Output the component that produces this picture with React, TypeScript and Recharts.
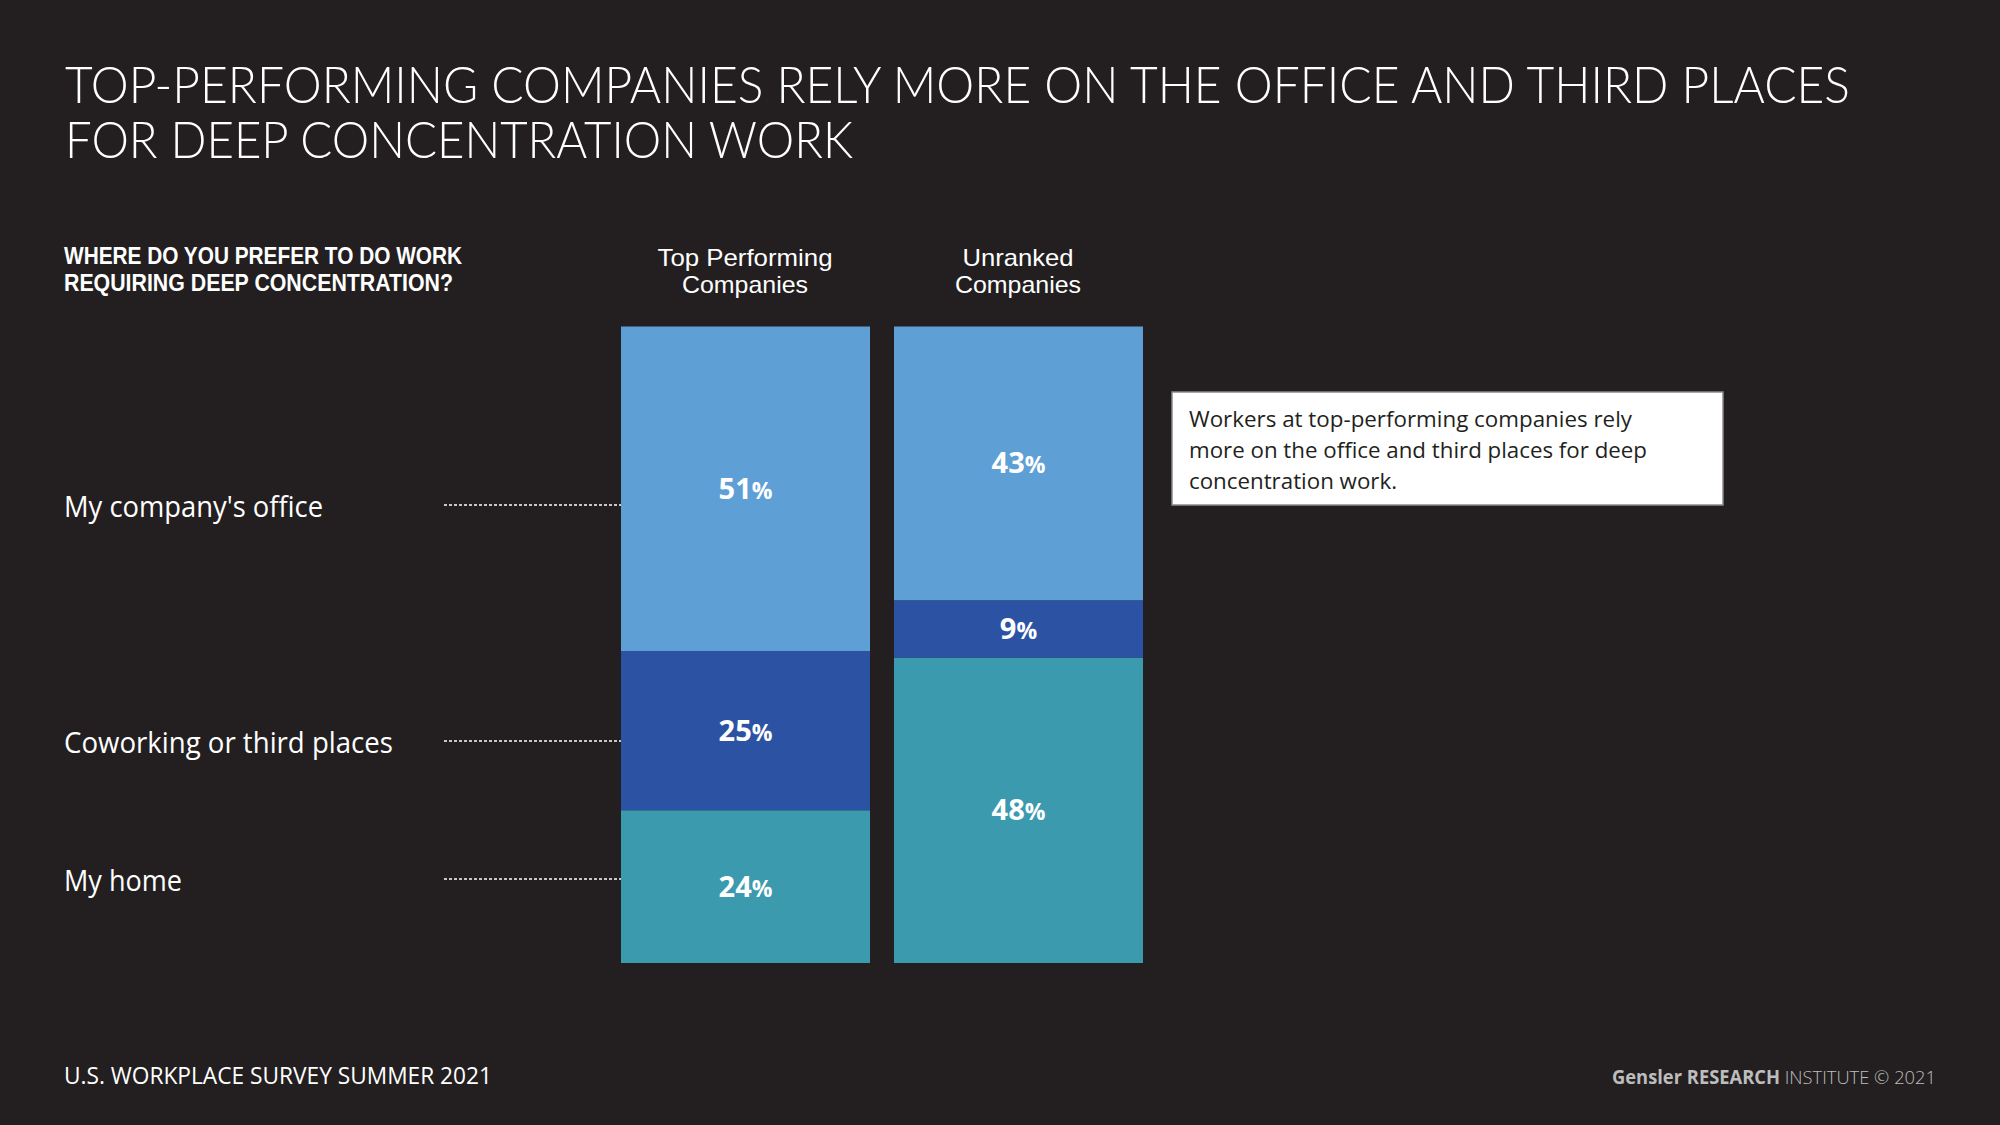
import React from "react";
import { BarChart, Bar, XAxis, YAxis, LabelList } from "recharts";

const categories = ["Top Performing Companies", "Unranked Companies"];
const headerLines = [
  ["Top Performing", "Companies"],
  ["Unranked", "Companies"],
];
const homeValues = [24, 48];
const coworkValues = [25, 9];
const officeValues = [51, 43];
const seriesNames = ["My home", "Coworking or third places", "My company's office"];

const data = categories.map((c, i) => ({
  name: c,
  home: homeValues[i],
  cowork: coworkValues[i],
  office: officeValues[i],
}));

const BG = "#231f20";
const C_OFFICE = "#5e9fd6";
const C_COWORK = "#2c53a3";
const C_HOME = "#3b9aae";

const PctLabel = (props: any) => {
  const { x, y, width, height, value } = props;
  const cx = Number(x) + Number(width) / 2;
  const cy = Number(y) + Number(height) / 2;
  return (
    <text
      x={cx}
      y={cy + 10}
      textAnchor="middle"
      fill="#ffffff"
      fontFamily="'Open Sans', sans-serif"
      fontWeight={700}
      fontSize={29}
    >
      {value}
      <tspan fontSize={23}>%</tspan>
    </text>
  );
};

export default function App() {
  const sans = "'Open Sans', sans-serif";
  const tight = "'Liberation Sans', Arial, sans-serif";
  return (
    <div
      style={{
        position: "absolute",
        left: 0,
        top: 0,
        width: 2000,
        height: 1125,
        background: BG,
        overflow: "hidden",
      }}
    >
      <div style={{ position: "absolute", left: 0, top: 0 }}>
        <BarChart
          width={2000}
          height={1125}
          data={data}
          margin={{ top: 326.5, bottom: 162, left: 609, right: 845 }}
        >
          <XAxis dataKey="name" hide />
          <YAxis hide domain={[0, 100]} />
          <Bar dataKey="home" stackId="a" fill={C_HOME} barSize={249} isAnimationActive={false}>
            <LabelList dataKey="home" content={PctLabel} />
          </Bar>
          <Bar dataKey="cowork" stackId="a" fill={C_COWORK} barSize={249} isAnimationActive={false}>
            <LabelList dataKey="cowork" content={PctLabel} />
          </Bar>
          <Bar dataKey="office" stackId="a" fill={C_OFFICE} barSize={249} isAnimationActive={false}>
            <LabelList dataKey="office" content={PctLabel} />
          </Bar>
        </BarChart>
      </div>
      <svg
        width={2000}
        height={1125}
        style={{ position: "absolute", left: 0, top: 0, pointerEvents: "none" }}
      >
        {/* Title */}
        <g transform="translate(65,102.5) scale(1,1.1)">
          <text x={0} y={0} fill="#ffffff" fontFamily="Lato, sans-serif" fontWeight={300} fontSize={46} textLength={1785} lengthAdjust="spacingAndGlyphs">
            TOP-PERFORMING COMPANIES RELY MORE ON THE OFFICE AND THIRD PLACES
          </text>
        </g>
        <g transform="translate(65,158) scale(1,1.1)">
          <text x={0} y={0} fill="#ffffff" fontFamily="Lato, sans-serif" fontWeight={300} fontSize={46} textLength={788} lengthAdjust="spacingAndGlyphs">
            FOR DEEP CONCENTRATION WORK
          </text>
        </g>

        {/* Question */}
        <text x={64} y={264} fill="#ffffff" fontFamily={tight} fontWeight={700} fontSize={24} textLength={398} lengthAdjust="spacingAndGlyphs">
          WHERE DO YOU PREFER TO DO WORK
        </text>
        <text x={64} y={291} fill="#ffffff" fontFamily={tight} fontWeight={700} fontSize={24} textLength={389} lengthAdjust="spacingAndGlyphs">
          REQUIRING DEEP CONCENTRATION?
        </text>

        {/* Column headers */}
        <text x={745} y={266} textAnchor="middle" fill="#ffffff" fontFamily={tight} fontSize={24} textLength={175} lengthAdjust="spacingAndGlyphs">
          {headerLines[0][0]}
        </text>
        <text x={745} y={293} textAnchor="middle" fill="#ffffff" fontFamily={tight} fontSize={24} textLength={126} lengthAdjust="spacingAndGlyphs">
          {headerLines[0][1]}
        </text>
        <text x={1018} y={266} textAnchor="middle" fill="#ffffff" fontFamily={tight} fontSize={24} textLength={111} lengthAdjust="spacingAndGlyphs">
          {headerLines[1][0]}
        </text>
        <text x={1018} y={293} textAnchor="middle" fill="#ffffff" fontFamily={tight} fontSize={24} textLength={126} lengthAdjust="spacingAndGlyphs">
          {headerLines[1][1]}
        </text>

        {/* Row labels with dotted leaders */}
        <text x={64} y={517} fill="#ffffff" fontFamily={sans} fontSize={30} textLength={259} lengthAdjust="spacingAndGlyphs">
          {seriesNames[2]}
        </text>
        <line x1={444} x2={621} y1={505} y2={505} stroke="#ffffff" strokeWidth={1.5} strokeDasharray="3 2" />
        <text x={64} y={753} fill="#ffffff" fontFamily={sans} fontSize={30} textLength={329} lengthAdjust="spacingAndGlyphs">
          {seriesNames[1]}
        </text>
        <line x1={444} x2={621} y1={741} y2={741} stroke="#ffffff" strokeWidth={1.5} strokeDasharray="3 2" />
        <text x={64} y={891} fill="#ffffff" fontFamily={sans} fontSize={30} textLength={118} lengthAdjust="spacingAndGlyphs">
          {seriesNames[0]}
        </text>
        <line x1={444} x2={621} y1={879} y2={879} stroke="#ffffff" strokeWidth={1.5} strokeDasharray="3 2" />

        {/* Annotation box */}
        <rect x={1172} y={392} width={551} height={113} fill="#ffffff" stroke="#8a8a8a" strokeWidth={1.5} />
        <text x={1189} y={427} fill={BG} fontFamily={sans} fontSize={22} textLength={443} lengthAdjust="spacingAndGlyphs">
          Workers at top-performing companies rely
        </text>
        <text x={1189} y={458} fill={BG} fontFamily={sans} fontSize={22} textLength={458} lengthAdjust="spacingAndGlyphs">
          more on the office and third places for deep
        </text>
        <text x={1189} y={489} fill={BG} fontFamily={sans} fontSize={22} textLength={208} lengthAdjust="spacingAndGlyphs">
          concentration work.
        </text>

        {/* Footer */}
        <text x={64} y={1084} fill="#ffffff" fontFamily={sans} fontSize={23} textLength={428} lengthAdjust="spacingAndGlyphs">
          U.S. WORKPLACE SURVEY SUMMER 2021
        </text>
        <text x={1612} y={1084} fill="#bdbdbd" fontFamily={sans} fontSize={19} textLength={324} lengthAdjust="spacingAndGlyphs">
          <tspan fontWeight={700}>Gensler RESEARCH</tspan>
          <tspan fontWeight={300}> INSTITUTE © 2021</tspan>
        </text>
      </svg>
    </div>
  );
}
